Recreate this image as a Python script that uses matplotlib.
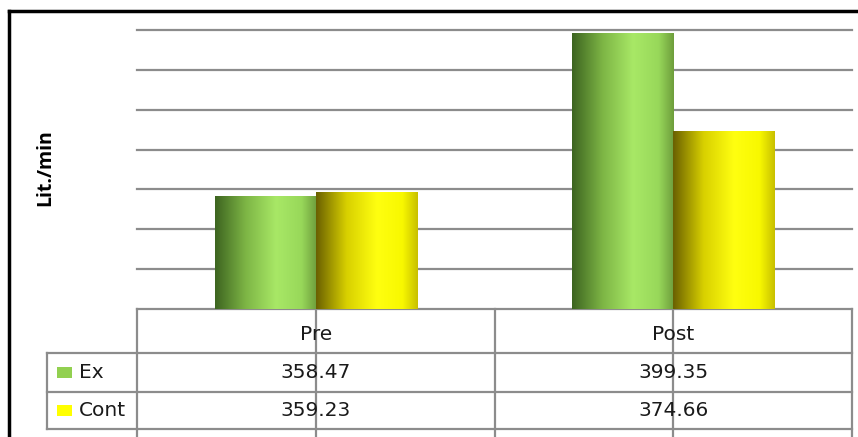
import numpy as np
import matplotlib
matplotlib.use("Agg")
import matplotlib.pyplot as plt
from matplotlib.colors import LinearSegmentedColormap
from matplotlib.lines import Line2D
from matplotlib.patches import Rectangle
from matplotlib.transforms import blended_transform_factory

categories = ["Pre", "Post"]
series_names = ["Ex", "Cont"]
ex_values = [358.47, 399.35]
cont_values = [359.23, 374.66]

plt.rcParams['font.family'] = ['DejaVu Sans']

W, H = 858, 437
fig = plt.figure(figsize=(W / 100, H / 100), dpi=100)

# plot area in pixel terms
left, right, top, base = 137, 852, 30, 309
ax = fig.add_axes([left / W, (H - base) / H, (right - left) / W, (base - top) / H])
for s in ax.spines.values():
    s.set_visible(False)
ax.set_xticks([])
ax.set_yticks(np.arange(340, 401, 10))
ax.tick_params(axis='y', length=0, labelleft=False)
ax.yaxis.grid(True, color='#8c8c8c', linewidth=1.6)
ax.set_axisbelow(True)

# cylinder-like shading for each series
green_cmap = LinearSegmentedColormap.from_list(
    "g", [(0, "#3d6420"), (0.3, "#7db545"), (0.6, "#a8e866"), (0.85, "#98d85a"), (1, "#6e9e3c")])
yellow_cmap = LinearSegmentedColormap.from_list(
    "y", [(0, "#6a6000"), (0.3, "#d8d000"), (0.6, "#ffff10"), (0.85, "#f8f800"), (1, "#c8c000")])

x = np.arange(len(categories))
bw = 0.283
bars_ex = ax.bar(x - bw / 2, ex_values, bw, bottom=0, color='none', zorder=2)
bars_cont = ax.bar(x + bw / 2, cont_values, bw, bottom=0, color='none', zorder=2)

grad = np.linspace(0, 1, 256).reshape(1, -1)
for bars, cmap in [(bars_ex, green_cmap), (bars_cont, yellow_cmap)]:
    for p in bars:
        x0, w, h = p.get_x(), p.get_width(), p.get_height()
        im = ax.imshow(grad, cmap=cmap, aspect='auto', extent=[x0, x0 + w, 330, h],
                       zorder=3, interpolation='bicubic')
        im.set_clip_path(p)
ax.set_xlim(-0.5, 1.5)
ax.set_ylim(330, 400)
for gl in ax.get_ygridlines():
    gl.set_clip_on(False)

fig.text(45 / W, (H - 168) / H, "Lit./min", fontsize=14, fontweight='bold',
         rotation=90, ha='center', va='center', family=['Open Sans', 'DejaVu Sans'])

# data table below the plot area
tr = blended_transform_factory(ax.transData, ax.transAxes)
ph = base - top
def fy(py):
    return (base - py) / ph

line_kw = dict(color='#8c8c8c', linewidth=1.6, clip_on=False, zorder=1)
x_tab_left = -0.5 - (left - 47) / (right - left) * 2
row_y = [fy(309), fy(353), fy(392), fy(429)]

# horizontal rules
ax.add_line(Line2D([-0.5, 1.5], [row_y[0]] * 2, transform=tr, **line_kw))
for yy in row_y[1:]:
    ax.add_line(Line2D([x_tab_left, 1.5], [yy] * 2, transform=tr, **line_kw))
# vertical rules
ax.add_line(Line2D([-0.5, -0.5], [row_y[0], fy(437)], transform=tr, **line_kw))
ax.add_line(Line2D([0.5, 0.5], [row_y[0], fy(437)], transform=tr, **line_kw))
ax.add_line(Line2D([1.5, 1.5], [row_y[0], fy(437)], transform=tr, **line_kw))
ax.add_line(Line2D([x_tab_left, x_tab_left], [row_y[1], row_y[3]], transform=tr, **line_kw))
for xi in x:
    ax.add_line(Line2D([xi, xi], [row_y[0] + 0.005, fy(437)], transform=tr, **line_kw))

txt_kw = dict(transform=tr, fontsize=14.5, ha='center', va='center', color='#1a1a1a', clip_on=False)
for xi, c in zip(x, categories):
    ax.text(xi, (row_y[0] + row_y[1]) / 2 - 0.012, c, **txt_kw)
for xi, v in zip(x, ex_values):
    ax.text(xi, (row_y[1] + row_y[2]) / 2, f"{v:.2f}", **txt_kw)
for xi, v in zip(x, cont_values):
    ax.text(xi, (row_y[2] + row_y[3]) / 2, f"{v:.2f}", **txt_kw)

# legend keys in the first column
key_colors = ["#92d050", "#ffff00"]
for i, (name, col) in enumerate(zip(series_names, key_colors)):
    yc = ax.transAxes.transform((0, (row_y[i + 1] + row_y[i + 2]) / 2))[1] / H
    fig.patches.append(Rectangle((57 / W, yc - 5.5 / H), 15 / W, 11 / H, facecolor=col,
                                 edgecolor='none', transform=fig.transFigure))
    fig.text(79 / W, yc, name, fontsize=14.5, ha='left', va='center', color='#1a1a1a')

# black frame on top and left
fig.add_artist(Line2D([8.5 / W, 857 / W], [(H - 11) / H] * 2, color='black', linewidth=2.5))
fig.add_artist(Line2D([8.5 / W, 8.5 / W], [0, (H - 11) / H], color='black', linewidth=2.5))

fig.savefig("out.png", dpi=100)
